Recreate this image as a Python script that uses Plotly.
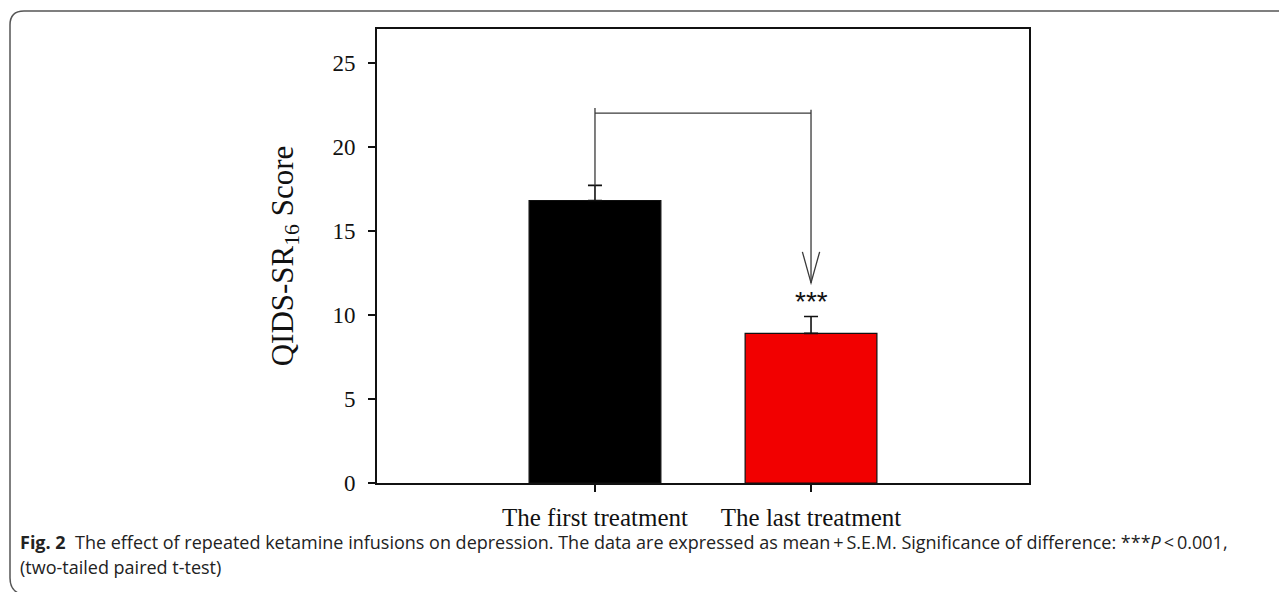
import plotly.graph_objects as go

# ---- data ----
categories = ["The first treatment", "The last treatment"]
means = [16.8, 8.9]
sems = [0.9, 1.0]
bar_colors = ["#000000", "#f20000"]
y_ticks = [0, 5, 10, 15, 20, 25]
bracket_y = 22.0
arrow_tip_y = 11.9
sig_label = "***"

# ---- geometry helpers (pixel layout of the reference; page has an 8px body margin) ----
OFF = 8
W, H = 1287 - OFF, 592 - OFF
L, R, T, B = 377 - OFF, 1029 - OFF, 29 - OFF, 483 - OFF
def px(x):  # reference pixel -> paper
    return (x - OFF - L) / (R - L)
def py(y):
    return (B - (y - OFF)) / (B - T)

fig = go.Figure()
fig.add_trace(go.Bar(
    x=[0, 1], y=means, width=0.61,
    marker=dict(color=bar_colors, line=dict(color="#111111", width=1.2)),
    error_y=dict(type="data", symmetric=False, array=sems, arrayminus=[0, 0],
                 color="#111111", thickness=1.6, width=7),
    showlegend=False, hoverinfo="skip",
))

line_style = dict(color="#3a3a3a", width=1.3)
shapes = []
shapes.append(dict(type="line", xref="x", yref="y", x0=0, x1=0,
                   y0=means[0] + sems[0], y1=bracket_y + 0.3, line=line_style))
shapes.append(dict(type="line", xref="x", yref="y", x0=0, x1=1,
                   y0=bracket_y, y1=bracket_y, line=line_style))
shapes.append(dict(type="line", xref="x", yref="y", x0=1, x1=1,
                   y0=bracket_y + 0.2, y1=arrow_tip_y, line=line_style))
shapes.append(dict(type="path", xref="x", yref="y",
                   path=f"M {1-0.04},{arrow_tip_y+1.85} L 1,{arrow_tip_y} L {1+0.04},{arrow_tip_y+1.85}",
                   line=line_style))
# outer frame (rounded top-left)
r = 14
fx, fy = 10, 11
frame = (f"M {px(fx+8)},{py(593)} Q {px(fx)},{py(589)} {px(fx)},{py(578)} "
         f"L {px(fx)},{py(fy+r)} Q {px(fx)},{py(fy)} {px(fx+r)},{py(fy)} "
         f"L {px(1290)},{py(fy)}")
shapes.append(dict(type="path", xref="paper", yref="paper", path=frame,
                   line=dict(color="#555555", width=1.5)))

cap_font = dict(family="Open Sans", size=18, color="#222222")
annotations = [
    dict(x=1, y=means[1] + sems[1], xref="x", yref="y", text=sig_label,
         showarrow=False, yanchor="bottom", yshift=-2,
         font=dict(family="Liberation Sans", size=28, color="#111111")),
    dict(x=px(18), y=py(542), xref="paper", yref="paper", xanchor="left", yanchor="middle",
         showarrow=False, align="left",
         text="<b>Fig. 2</b>\u00a0\u00a0The effect of repeated ketamine infusions on depression. "
              "The data are expressed as mean\u2009+\u2009S.E.M. Significance of difference: "
              "***<i>P</i>\u2009<\u20090.001,",
         font=cap_font),
    dict(x=px(18), y=py(567), xref="paper", yref="paper", xanchor="left", yanchor="middle",
         showarrow=False, align="left", text="(two-tailed paired t-test)",
         font=cap_font),
]

serif = "Liberation Serif"
fig.update_layout(
    width=W, height=H,
    margin=dict(l=L, r=W - R, t=T, b=H - B),
    paper_bgcolor="white", plot_bgcolor="white",
    shapes=shapes, annotations=annotations,
    xaxis=dict(range=[-1.009, 2.009], tickvals=[0, 1], ticktext=categories,
               showline=True, linecolor="#111111", linewidth=2, mirror=True,
               ticks="outside", ticklen=7, tickwidth=1.5, tickcolor="#111111",
               showgrid=False, zeroline=False, ticklabelstandoff=4,
               tickfont=dict(family=serif, size=25, color="#111111")),
    yaxis=dict(range=[0, 27], tickvals=y_ticks,
               showline=True, linecolor="#111111", linewidth=2, mirror=True,
               ticks="outside", ticklen=7, tickwidth=1.5, tickcolor="#111111",
               showgrid=False, zeroline=False, ticklabelstandoff=8,
               tickfont=dict(family=serif, size=23, color="#111111"),
               title=dict(text="QIDS-SR<sub>16</sub> Score", standoff=30,
                          font=dict(family=serif, size=31, color="#111111"))),
)

fig.write_html("out.html")
